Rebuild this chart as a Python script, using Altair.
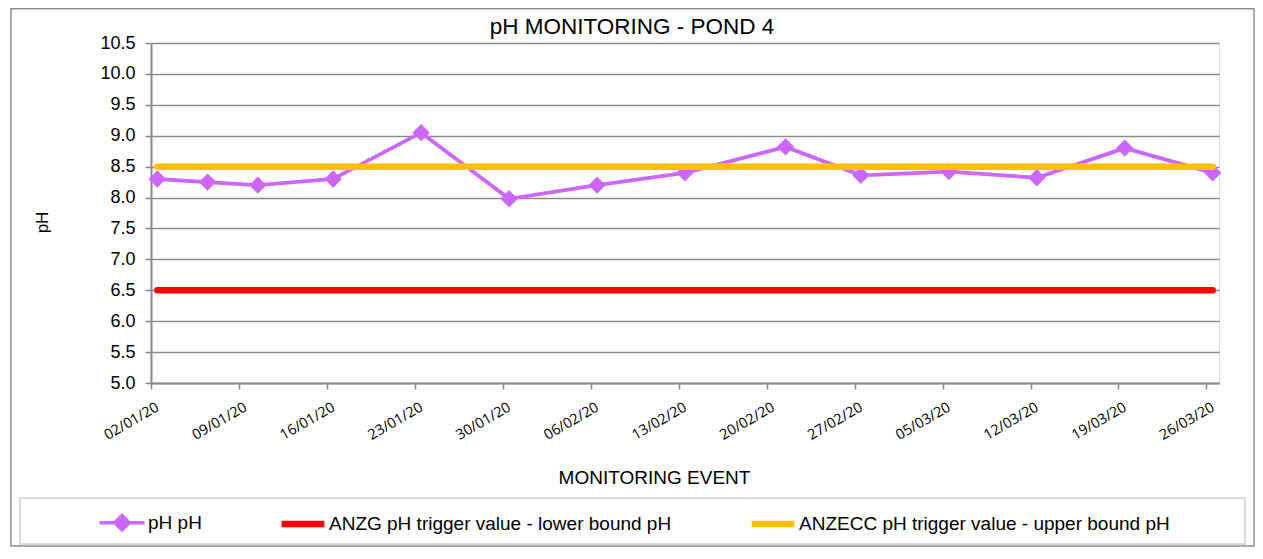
import altair as alt
import pandas as pd

# ---- data ----
dates = ["2020-01-02", "2020-01-06", "2020-01-10", "2020-01-16", "2020-01-23",
         "2020-01-30", "2020-02-06", "2020-02-13", "2020-02-21", "2020-02-27",
         "2020-03-05", "2020-03-12", "2020-03-19", "2020-03-26"]
ph_values = [8.30, 8.25, 8.20, 8.30, 9.05, 7.98, 8.20, 8.40, 8.82, 8.36,
             8.42, 8.32, 8.80, 8.40]
lower_trigger = 6.5
upper_trigger = 8.5
series_names = ["pH pH",
                "ANZG pH trigger value - lower bound pH",
                "ANZECC pH trigger value - upper bound pH"]
series_colors = ["#cc66ff", "#ff0000", "#ffc000"]
y_ticks = [5.0, 5.5, 6.0, 6.5, 7.0, 7.5, 8.0, 8.5, 9.0, 9.5, 10.0, 10.5]
x_tick_dates = ["2020-01-02", "2020-01-09", "2020-01-16", "2020-01-23", "2020-01-30",
                "2020-02-06", "2020-02-13", "2020-02-20", "2020-02-27", "2020-03-05",
                "2020-03-12", "2020-03-19", "2020-03-26"]
x_domain = ["2020-01-01T12:00", "2020-03-26T12:00"]
chart_title = "pH MONITORING - POND 4"

# ---- tables ----
df_ph = pd.DataFrame({"date": dates, "value": ph_values, "series": series_names[0]})
df_low = pd.DataFrame({"date": dates, "value": [lower_trigger] * len(dates), "series": series_names[1]})
df_up = pd.DataFrame({"date": dates, "value": [upper_trigger] * len(dates), "series": series_names[2]})
df_leg = pd.DataFrame({"series": series_names})


def to_dt(s):
    d, _, t = s.partition("T")
    y, m, dd = (int(p) for p in d.split("-"))
    kw = dict(year=y, month=m, date=dd, utc=True)
    if t:
        kw["hours"] = int(t.split(":")[0])
    return alt.DateTime(**kw)


TXT = "Liberation Sans"
AX = "#898989"

x_enc = alt.X(
    "date:T",
    scale=alt.Scale(type="utc", domain=[to_dt(s) for s in x_domain]),
    axis=alt.Axis(
        values=[to_dt(s) for s in x_tick_dates],
        labelExpr="utcFormat(datum.value, '%d/%m/%y')",
        labelAngle=330, labelAlign="right", labelBaseline="top",
        labelFont="Open Sans", labelFontSize=14.5, labelColor="#000000",
        labelOverlap=False, labelFlush=False, labelPadding=11,
        tickOffset=-6.3, labelOffset=3,
        tickSize=6, tickColor=AX, tickWidth=1.5,
        domainColor=AX, domainWidth=2, grid=False,
        title="MONITORING EVENT", titleFont=TXT, titleFontSize=19,
        titleFontWeight="normal", titleColor="#000000",
        titleX=503, titleY=100, titleBaseline="alphabetic", titleAlign="center",
    ),
)
y_enc = alt.Y(
    "value:Q",
    scale=alt.Scale(domain=[5.0, 10.5], nice=False, zero=False),
    axis=alt.Axis(
        values=y_ticks, format=".1f",
        labelFont=TXT, labelFontSize=18, labelColor="#000000", labelPadding=10,
        tickSize=6, tickColor=AX, tickWidth=1.5,
        domainColor=AX, domainWidth=2,
        grid=True, gridColor="#8c8c8c", gridWidth=1.5,
        title="pH", titleFont=TXT, titleFontSize=17, titleFontWeight="normal",
        titleColor="#000000", titleAngle=270, titleX=-104, titleY=179,
        titleBaseline="alphabetic", titleAlign="center",
    ),
)

# one merged legend built from the scales on the series names
leg = alt.Legend(
    title=None, orient="none", legendX=-55, legendY=455,
    direction="horizontal", columns=3, columnPadding=66, padding=0,
    symbolSize=2025, symbolOpacity=1,
    labelFont=TXT, labelFontSize=19, labelColor="#000000",
    labelOffset=0, labelLimit=600,
)
color_enc = alt.Color("series:N", scale=alt.Scale(domain=series_names, range=series_colors),
                      legend=leg)
legend_paths = ["M-1,0L1,0M-0.32,0L0,-0.32L0.32,0L0,0.32Z", "M-0.95,0L0.95,0", "M-0.95,0L0.95,0"]
legend_widths = [3.5, 6.5, 6.5]
legend_layer = alt.Chart(df_leg).mark_point(filled=True, opacity=1).encode(
    color=color_enc,
    shape=alt.Shape("series:N", scale=alt.Scale(domain=series_names, range=legend_paths), legend=leg),
    strokeWidth=alt.StrokeWidth("series:N", scale=alt.Scale(type="ordinal", domain=series_names,
                                                          range=legend_widths), legend=leg),
).transform_filter("false")

one = alt.Data(values=[{"k": 1}])
frame = alt.Chart(one).mark_rect(fill="transparent", stroke="#8f8f8f", strokeWidth=1.5).encode(
    x=alt.value(-140), x2=alt.value(1103), y=alt.value(-34.25), y2=alt.value(503)
)
legend_box = alt.Chart(one).mark_rect(fill="transparent", stroke="#d9d9d9", strokeWidth=2).encode(
    x=alt.value(-131), x2=alt.value(1094), y=alt.value(455), y2=alt.value(501)
)
title_text = alt.Chart(one).mark_text(
    text=chart_title, font=TXT, fontSize=22.5, color="#000000", align="center", baseline="alphabetic"
).encode(x=alt.value(481), y=alt.value(-9))

ph_line = alt.Chart(df_ph).mark_line(strokeWidth=3.8).encode(x=x_enc, y=y_enc, color=color_enc)
ph_pts = alt.Chart(df_ph).mark_point(shape="diamond", size=300, filled=True, opacity=1).encode(
    x=x_enc, y=y_enc, color=color_enc)
low_line = alt.Chart(df_low).mark_line(strokeWidth=6.5, strokeCap="round").encode(
    x=x_enc, y=y_enc, color=color_enc)
up_line = alt.Chart(df_up).mark_line(strokeWidth=6.5, strokeCap="round").encode(
    x=x_enc, y=y_enc, color=color_enc)

chart = alt.layer(frame, legend_box, title_text, ph_line, ph_pts, low_line, up_line,
                  legend_layer).properties(
    width=1068, height=340,
    padding={"left": 143, "top": 35, "right": 36, "bottom": 164},
    autosize=alt.AutoSizeParams(type="none"),
).configure_view(stroke=None, fill="#e6e6e6").configure(background="white")

chart.save("out.html", embed_options={"renderer": "svg", "actions": False})
